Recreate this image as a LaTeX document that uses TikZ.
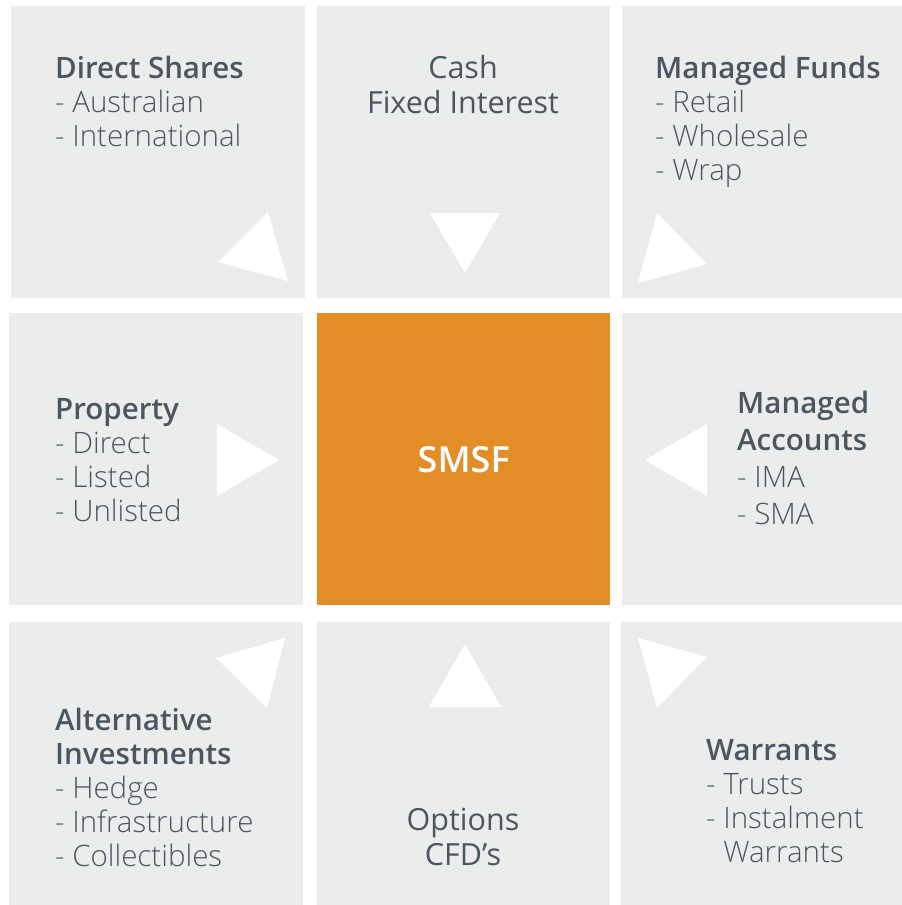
\documentclass[tikz,border=0pt]{standalone}
\usepackage{fontspec}
\setmainfont{Open Sans}[UprightFont=* Light, BoldFont=* Semibold]
\newfontfamily\midfont{Open Sans}
\usetikzlibrary{positioning}

\definecolor{tilegray}{HTML}{EBEDED}
\definecolor{smsforange}{HTML}{E38D27}
\definecolor{textslate}{HTML}{4A5660}

\begin{document}
\begin{tikzpicture}[x=1pt,y=-1pt]
  \tikzset{tile/.style={fill=tilegray, inner sep=0pt, anchor=north west,
                        minimum width=294pt, minimum height=292pt},
           caption/.style={text=textslate, inner sep=0pt, align=left,
                           anchor=base west, font=\fontsize{29.5}{34}\selectfont},
           middle/.style={caption, align=center, anchor=base, font=\midfont\fontsize{30.5}{35}\selectfont},
           pointer/.style={fill=white}}
  \useasboundingbox (0,0) rectangle (902,905);

  % tiles
  \node[tile]                        (shares)      at (11,6)    {};
  \node[tile,minimum width=293pt]    (cash)        at (317,6)   {};
  \node[tile,minimum width=280pt]    (funds)       at (622,6)   {};
  \node[tile]                        (property)    at (9,313)   {};
  \node[tile,minimum width=293pt,fill=smsforange] (smsf) at (317,313) {};
  \node[tile,minimum width=280pt]    (accounts)    at (622,313) {};
  \node[tile,minimum height=283pt]   (alternative) at (9,622)   {};
  \node[tile,minimum width=293pt,minimum height=283pt] (options) at (317,622) {};
  \node[tile,minimum width=281pt,minimum height=283pt] (warrants) at (621,622) {};

  % captions (placed at the baseline of their last line)
  \node[caption] (shares text) at (55,146)
    {\textbf{Direct Shares}\\- Australian\\- International};
  \node[middle] (cash text) at (463,113) {Cash\\Fixed Interest};
  \node[caption] (funds text) at (655,180)
    {\textbf{Managed Funds}\\- Retail\\- Wholesale\\- Wrap};
  \node[caption] (property text) at (55,521)
    {\textbf{Property}\\- Direct\\- Listed\\- Unlisted};
  \node[text=white, font=\fontsize{36}{40}\selectfont\bfseries] (smsf text) at (smsf.center) {SMSF};
  \node[caption, font=\fontsize{29.5}{37}\selectfont] (accounts text) at (737,524)
    {\textbf{Managed}\\\textbf{Accounts}\\- IMA\\- SMA};
  \node[caption] (alternative text) at (55,866)
    {\textbf{Alternative}\\\textbf{Investments}\\- Hedge\\- Infrastructure\\- Collectibles};
  \node[middle] (options text) at (463,865) {Options\\CFD’s};
  \node[caption] (warrants text) at (706,862)
    {\textbf{Warrants}\\- Trusts\\- Instalment\\\hphantom{- }Warrants};

  % pointers towards SMSF
  \fill[pointer] (268,212) -- (218,262) -- (288,281) -- cycle;
  \fill[pointer] (430,213) -- (500,213) -- (465,273) -- cycle;
  \fill[pointer] (657,213) -- (707,264) -- (638,283) -- cycle;
  \fill[pointer] (217,424) -- (217,496) -- (279,460) -- cycle;
  \fill[pointer] (707,424) -- (707,496) -- (645,460) -- cycle;
  \fill[pointer] (285,638) -- (216,658) -- (267,708) -- cycle;
  \fill[pointer] (465,644) -- (429,707) -- (501,707) -- cycle;
  \fill[pointer] (638,638) -- (707,657) -- (657,708) -- cycle;
\end{tikzpicture}
\end{document}
